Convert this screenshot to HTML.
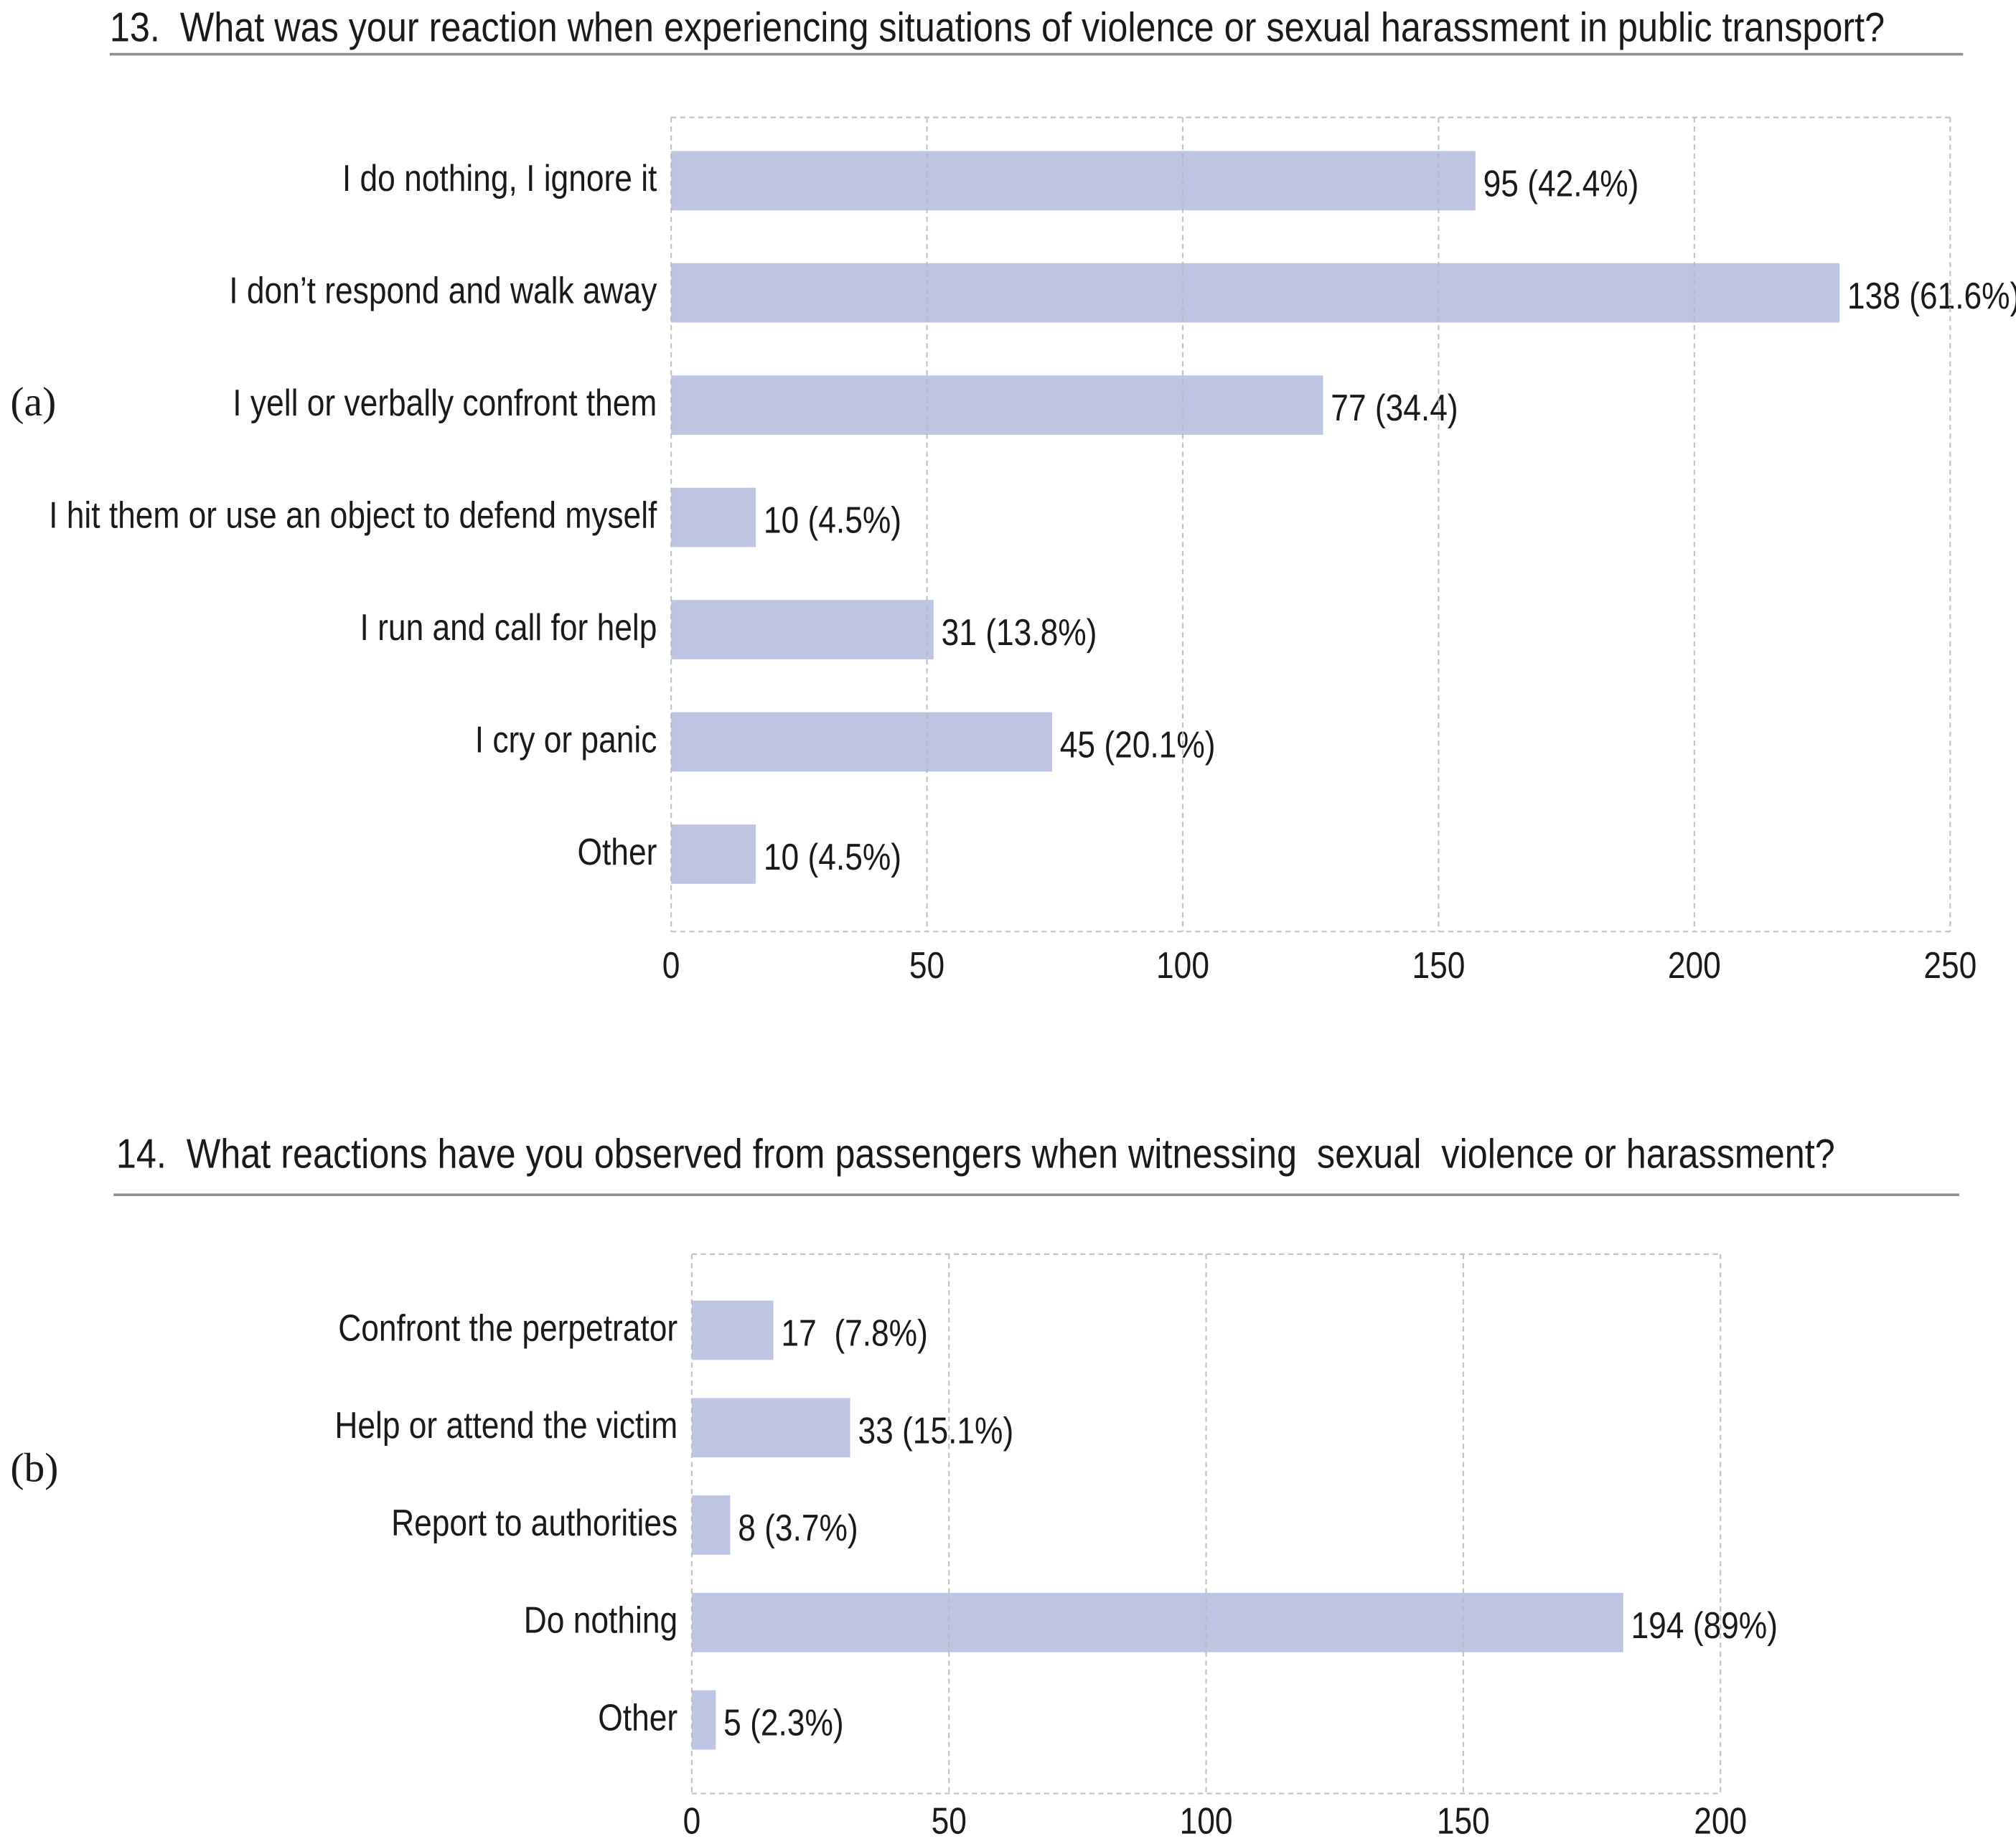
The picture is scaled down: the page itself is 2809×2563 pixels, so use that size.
<!DOCTYPE html>
<html><head><meta charset="utf-8"><style>
html,body{margin:0;padding:0;background:#fff;}
svg{display:block;}
text{font-family:"Liberation Sans",Arial,sans-serif;fill:#1a1a1a;white-space:pre;}
</style></head><body>
<svg id="chart" xmlns="http://www.w3.org/2000/svg" width="2809" height="2563" viewBox="0 0 1562 1425.3" preserveAspectRatio="none"></svg>
<script>
const catsA = ["I do nothing, I ignore it","I don\u2019t respond and walk away","I yell or verbally confront them","I hit them or use an object to defend myself","I run and call for help","I cry or panic","Other"];
const valsA = [95,138,77,10,31,45,10];
const lblA = ["95 (42.4%)","138 (61.6%)","77 (34.4)","10 (4.5%)","31 (13.8%)","45 (20.1%)","10 (4.5%)"];
const ticksA = [0,50,100,150,200,250];
const catsB = ["Confront the perpetrator","Help or attend the victim","Report to authorities","Do nothing","Other"];
const valsB = [17,33,8,194,5];
const lblB = ["17  (7.8%)","33 (15.1%)","8 (3.7%)","194 (89%)","5 (2.3%)"];
const ticksB = [0,50,100,150,200];

const NS="http://www.w3.org/2000/svg";
const svg=document.getElementById('chart');
function mk(tag,attrs,parent){const e=document.createElementNS(NS,tag);for(const k in attrs)e.setAttribute(k,attrs[k]);(parent||svg).appendChild(e);return e;}
function txt(s,x,y,size,anchor,parent,family,sx){
  const g=mk('g',{transform:`translate(${x},${y}) scale(${family?1:(sx||0.85)},1)`},parent);
  const t=mk('text',{x:0,y:0,'font-size':size,'text-anchor':anchor||'start'},g);
  if(family)t.setAttribute('style','font-family:"Liberation Serif",serif');
  t.textContent=s;return t;
}
function panel(cfg){
  const {cats,vals,lbls,ticks,x0,x1,y0,y1,tickMax,barScale,centers,title,titleX,titleY,lineX0,lineX1,lineY,tag,tagY,name,tickOff}=cfg;
  const grp=mk('g',{});
  
  
  const tt=txt(title,titleX,titleY,32,'start',grp,false,0.875);
  
  
  const ul=mk('line',{x1:lineX0,x2:lineX1,y1:lineY,y2:lineY,stroke:'#8f8f8f','stroke-width':2},grp);
  
  
  const tg=txt(tag,8,tagY,32,'start',grp,true);
  
  
  const ax=v=>x0+(x1-x0)*v/tickMax;
  const bw=v=>v*barScale;
  const bars=mk('g',{},grp);
  
  
  cats.forEach((c,i)=>{
    const cy=centers[0]+(centers[1]-centers[0])*i;
    const r=mk('rect',{x:x0,y:cy-23,width:bw(vals[i]),height:46,fill:'#bec5e2'},bars);
    
    
    const l=txt(c,x0-11,cy+8,29,'end',grp);
    
    
    const v=txt(lbls[i],x0+bw(vals[i])+6,cy+12,29,'start',grp);
    
    
  });
  const grid=mk('g',{stroke:'#b8b8b8','stroke-width':1.2,'stroke-dasharray':'4 3',fill:'none',opacity:0.85},grp);
  
  
  mk('line',{x1:x0,x2:x1,y1:y0,y2:y0},grid);
  mk('line',{x1:x0,x2:x1,y1:y1,y2:y1},grid);
  ticks.forEach(t=>{mk('line',{x1:ax(t),x2:ax(t),y1:y0,y2:y1},grid);});
  ticks.forEach((t,i)=>{
    const tl=txt(String(t),ax(t),y1+tickOff,29,'middle',grp);
    
    
  });
}
panel({cats:catsA,vals:valsA,lbls:lblA,ticks:ticksA,x0:520,x1:1511,y0:91,y1:722,tickMax:250,barScale:6.56,
  centers:[140,227],title:"13.  What was your reaction when experiencing situations of violence or sexual harassment in public transport?",
  titleX:85,titleY:32,lineX0:85,lineX1:1521,lineY:42,tag:"(a)",tagY:322,name:"chart-a",tickOff:36});
panel({cats:catsB,vals:valsB,lbls:lblB,ticks:ticksB,x0:536,x1:1333,y0:972,y1:1390,tickMax:200,barScale:3.72,
  centers:[1031,1106.5],title:"14.  What reactions have you observed from passengers when witnessing  sexual  violence or harassment?",
  titleX:90,titleY:905,lineX0:88,lineX1:1518,lineY:926,tag:"(b)",tagY:1148,name:"chart-b",tickOff:31});
</script>
</body></html>
